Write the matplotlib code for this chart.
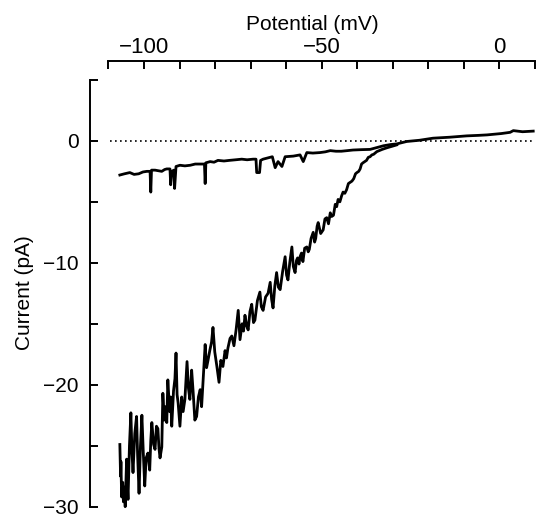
import matplotlib
matplotlib.use('Agg')
import matplotlib.pyplot as plt

plt.rcParams['font.family'] = ['Liberation Sans', 'DejaVu Sans']

# lower trace: (potential mV, current pA)
low_trace = [
    (-106.8, -24.9), (-106.6, -27.5), (-106.5, -26.3), (-106.3, -29.2), (-106.0, -28.0),
    (-105.8, -29.6), (-105.5, -28.4), (-105.3, -30.0), (-104.9, -26.1), (-104.7, -28.2),
    (-104.5, -29.4), (-104.1, -25.0), (-103.7, -22.3), (-103.4, -25.5), (-103.1, -27.2),
    (-102.6, -24.0), (-102.1, -22.6), (-101.8, -25.8), (-101.4, -28.9), (-101.0, -25.0),
    (-100.6, -22.5), (-100.2, -25.6), (-99.8, -28.3), (-99.4, -26.0), (-98.9, -25.6),
    (-98.4, -27.0), (-98.1, -24.6), (-97.8, -23.1), (-97.3, -24.9), (-96.9, -25.3),
    (-96.5, -23.4), (-96.1, -23.6), (-95.8, -25.2), (-95.5, -26.0), (-95.0, -25.1),
    (-94.7, -20.7), (-94.3, -22.9), (-94.0, -21.8), (-93.6, -23.1), (-93.3, -19.6),
    (-92.8, -22.2), (-92.5, -21.0), (-92.2, -23.4), (-91.7, -20.5), (-91.3, -19.5),
    (-91.0, -17.4), (-90.7, -20.8), (-90.4, -21.5), (-89.9, -23.4), (-89.4, -21.0),
    (-89.0, -22.2), (-88.5, -21.2), (-87.9, -18.1), (-87.5, -20.3), (-87.1, -21.2),
    (-86.6, -18.8), (-86.2, -20.5), (-85.7, -22.9), (-85.2, -22.6), (-84.7, -21.0),
    (-84.2, -20.4), (-83.8, -21.8), (-83.3, -19.2), (-82.8, -16.7), (-82.4, -18.6),
    (-82.0, -18.0), (-81.5, -17.2), (-81.0, -16.5), (-80.6, -15.3), (-80.1, -17.3),
    (-79.5, -18.5), (-78.9, -19.8), (-78.4, -18.0), (-77.8, -18.5), (-77.2, -17.2),
    (-76.8, -17.8), (-76.4, -17.0), (-75.8, -16.2), (-75.3, -16.0), (-74.7, -16.8),
    (-74.1, -15.5), (-73.5, -13.9), (-73.0, -16.3), (-72.4, -15.0), (-72.0, -15.6),
    (-71.6, -14.3), (-71.1, -15.2), (-70.7, -15.5), (-70.2, -14.0), (-69.7, -13.4),
    (-69.2, -14.9), (-68.8, -14.7), (-68.1, -13.1), (-67.4, -12.4), (-67.0, -13.6),
    (-66.5, -13.9), (-65.8, -12.8), (-65.1, -12.5), (-64.5, -11.6), (-64.1, -13.0),
    (-63.7, -13.7), (-63.2, -11.9), (-62.7, -10.8), (-62.2, -12.0), (-61.7, -12.2),
    (-61.0, -10.7), (-60.3, -9.5), (-59.9, -11.0), (-59.5, -11.4), (-59.0, -10.0),
    (-58.4, -8.7), (-58.0, -10.3), (-57.5, -10.8), (-57.1, -9.8), (-56.8, -9.6),
    (-56.4, -10.1), (-56.1, -9.5), (-55.7, -9.2), (-55.3, -9.9), (-54.8, -8.8),
    (-54.2, -8.7), (-53.8, -9.1), (-53.5, -8.9), (-53.0, -8.0), (-52.4, -7.5),
    (-52.0, -8.3), (-51.7, -8.0), (-51.3, -7.0), (-51.0, -6.7), (-50.3, -7.6),
    (-49.6, -7.3), (-49.1, -6.4), (-48.6, -6.3), (-48.1, -6.8), (-47.6, -5.9),
    (-47.2, -6.2), (-46.7, -6.1), (-46.2, -5.2), (-45.8, -5.4), (-45.4, -4.8),
    (-44.9, -5.0), (-44.4, -4.5), (-44.0, -4.2), (-43.5, -4.3), (-43.0, -4.0),
    (-42.5, -3.5), (-42.0, -3.4), (-41.5, -3.3), (-41.0, -3.1), (-40.5, -2.7),
    (-40.1, -2.6), (-39.6, -2.5), (-39.2, -2.3), (-38.8, -1.9), (-38.4, -1.8),
    (-37.9, -1.7), (-37.4, -1.6), (-36.9, -1.35), (-36.4, -1.3), (-35.9, -1.15),
    (-35.4, -1.1), (-34.5, -0.88), (-33.0, -0.7), (-31.7, -0.57), (-30.3, -0.45),
    (-28.9, -0.33),
]

# upper trace
up_trace = [
    (-106.8, -2.8), (-105.5, -2.7), (-104.0, -2.6), (-102.8, -2.75), (-101.5, -2.7),
    (-100.3, -2.55), (-99.2, -2.5), (-98.3, -2.5), (-98.1, -4.2), (-97.9, -2.4),
    (-96.9, -2.4), (-95.0, -2.5), (-94.2, -2.35), (-93.6, -2.3), (-92.7, -2.3),
    (-92.5, -3.6), (-92.2, -2.5), (-91.6, -2.4), (-91.4, -3.9), (-91.0, -2.1),
    (-89.9, -2.0), (-88.5, -2.05), (-87.0, -2.0), (-85.6, -1.9), (-84.2, -1.9),
    (-83.0, -1.9), (-82.8, -3.5), (-82.6, -1.8), (-81.4, -1.7), (-80.3, -1.75),
    (-79.2, -1.6), (-77.5, -1.65), (-76.0, -1.6), (-74.2, -1.55), (-72.5, -1.5),
    (-71.0, -1.55), (-69.3, -1.5), (-68.5, -1.5), (-68.3, -2.6), (-67.5, -2.6),
    (-67.2, -1.6), (-66.5, -1.5), (-65.2, -1.4), (-63.9, -1.3), (-63.1, -2.2),
    (-62.3, -1.7), (-61.2, -2.1), (-60.3, -1.3), (-58.0, -1.25), (-56.1, -1.15),
    (-55.2, -1.7), (-54.2, -0.96), (-52.5, -1.0), (-50.5, -0.96), (-49.0, -0.9),
    (-47.6, -0.8), (-46.0, -0.85), (-44.5, -0.85), (-42.8, -0.8), (-41.2, -0.75),
    (-38.8, -0.72), (-36.4, -0.7), (-34.5, -0.55), (-32.6, -0.4), (-30.6, -0.3),
    (-28.9, -0.25), (-26.1, -0.05), (-22.5, 0.05), (-18.7, 0.22), (-14.0, 0.3),
    (-9.2, 0.41), (-6.0, 0.45), (-3.5, 0.49), (0.5, 0.6), (3.0, 0.7),
    (3.9, 0.84), (6.5, 0.75), (9.5, 0.8),
]

low_mv, low_pa = zip(*low_trace)
up_mv, up_pa = zip(*up_trace)

x_ticks = [-110, -100, -90, -80, -70, -60, -50, -40, -30, -20, -10, 0, 10]
x_labels = ['', '\u2212100', '', '', '', '', '\u221250', '', '', '', '', '0', '']
y_ticks = [-30, -25, -20, -15, -10, -5, 0, 5]
y_labels = ['\u221230', '', '\u221220', '', '\u221210', '', '0', '']

W, H = 537, 517
fig = plt.figure(figsize=(W / 100, H / 100), dpi=100)
ax = fig.add_axes([90 / W, 1 - 506.7 / H, (535 - 90) / W, (506.7 - 61) / H])

ax.plot([-109.6, 10], [0, 0], color='black', lw=1.2, linestyle=(0, (1, 2)), clip_on=False)
ax.plot(up_mv, up_pa, color='black', lw=2.0, clip_on=False)
ax.plot(low_mv, low_pa, color='black', lw=2.0, clip_on=False)

ax.set_xlim(-115.2, 10)
ax.set_ylim(-30, 6.55)

ax.spines['right'].set_visible(False)
ax.spines['bottom'].set_visible(False)
ax.spines['top'].set_bounds(-110, 10)
ax.spines['left'].set_bounds(-30, 5)
for s in ('top', 'left'):
    ax.spines[s].set_linewidth(1.4)

ax.xaxis.tick_top()
ax.xaxis.set_label_position('top')
ax.set_xticks(x_ticks)
ax.set_xticklabels(x_labels)
ax.set_yticks(y_ticks)
ax.set_yticklabels(y_labels)
ax.tick_params(axis='x', direction='in', length=5.5, width=1.4, pad=2, labelsize=16)
ax.tick_params(axis='y', direction='in', length=5.5, width=1.4, pad=8, labelsize=15)

ax.set_xlabel('Potential (mV)', fontsize=15, labelpad=5)
ax.set_ylabel('Current (pA)', fontsize=15)
ax.yaxis.set_label_coords(-0.125, 0.48)

fig.savefig('out.png', dpi=100)
